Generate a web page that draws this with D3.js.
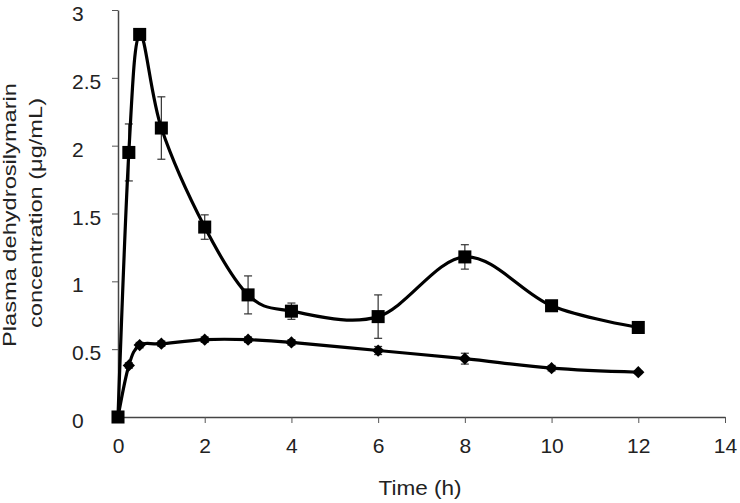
<!DOCTYPE html>
<html>
<head>
<meta charset="utf-8">
<script src="https://cdn.jsdelivr.net/npm/d3@7"></script>
<style>
  body { margin: 0; background: #fff; }
  text { font-family: "Liberation Sans", Arial, sans-serif; fill: #222; }
</style>
</head>
<body>
<svg id="chart" width="740" height="503"></svg>
<script>
// sampling times (h)
const times = [0, 0.25, 0.5, 1, 2, 3, 4, 6, 8, 10, 12];
// square series (formulation) mean and SD
const squareMean = [0, 1.95, 2.82, 2.13, 1.40, 0.90, 0.78, 0.74, 1.18, 0.82, 0.66];
const squareSD   = [0, 0.21, 0.02, 0.23, 0.09, 0.14, 0.06, 0.16, 0.09, 0.02, 0.02];
// diamond series mean and SD
const diamondMean = [0, 0.38, 0.53, 0.54, 0.57, 0.57, 0.55, 0.49, 0.43, 0.36, 0.33];
const diamondSD   = [0, 0.02, 0.02, 0.02, 0.02, 0.02, 0.02, 0.03, 0.04, 0.02, 0.01];

const xTicks = [0, 2, 4, 6, 8, 10, 12, 14];
const yTicks = [0, 0.5, 1, 1.5, 2, 2.5, 3];

const svg = d3.select("#chart");
const padLeft = 118, padRight = 725, padTop = 10, padBottom = 417;

const x = d3.scaleLinear().domain([0, 14]).range([padLeft, padRight]);
const y = d3.scaleLinear().domain([0, 3]).range([padBottom, padTop]);

// axes
const xAxis = svg.append("g")
    .attr("transform", "translate(0," + padBottom + ")")
    .call(d3.axisBottom(x).tickValues(xTicks).tickSize(6).tickSizeOuter(0).tickPadding(15).tickFormat(d3.format("d")));
const yAxis = svg.append("g")
    .attr("transform", "translate(" + padLeft + ",0)")
    .call(d3.axisLeft(y).tickValues(yTicks).tickSize(6).tickSizeOuter(0).tickFormat(d => d));

[xAxis, yAxis].forEach(function (a) {
    a.select(".domain").attr("stroke", "#444").attr("stroke-width", 1.5);
    a.selectAll(".tick line").attr("stroke", "#555").attr("stroke-width", 1);
    a.selectAll(".tick text").style("font-size", "21px").attr("fill", "#222");
});
xAxis.selectAll(".tick line").attr("y1", 0).attr("y2", 6);
yAxis.selectAll(".tick line").attr("x1", -6).attr("x2", 0);
// y labels are left aligned in the original
yAxis.selectAll(".tick text").attr("text-anchor", "start").attr("x", -46).attr("dy", "0.5em");

// axis titles
svg.append("text")
    .attr("x", 420).attr("y", 495)
    .attr("text-anchor", "middle")
    .style("font-size", "20px")
    .attr("textLength", 83)
    .attr("lengthAdjust", "spacingAndGlyphs")
    .text("Time (h)");

svg.append("text")
    .attr("transform", "translate(16,215) rotate(-90)")
    .attr("text-anchor", "middle")
    .style("font-size", "19px")
    .attr("textLength", 264)
    .attr("lengthAdjust", "spacingAndGlyphs")
    .text("Plasma dehydrosilymarin");
svg.append("text")
    .attr("transform", "translate(42,213) rotate(-90)")
    .attr("text-anchor", "middle")
    .style("font-size", "19px")
    .attr("textLength", 230)
    .attr("lengthAdjust", "spacingAndGlyphs")
    .text("concentration (\u03bcg/mL)");

function drawSeries(means, sds, symbolSize, rotate) {
    const pts = times.map((t, i) => ({ t: t, m: means[i], s: sds[i] }));
    const line = d3.line()
        .x(d => x(d.t))
        .y(d => y(d.m))
        .curve(d3.curveCardinal.tension(0));

    const g = svg.append("g");

    // error bars
    const eb = g.selectAll(".eb").data(pts.filter(d => d.s > 0)).enter().append("g");
    eb.append("line")
        .attr("x1", d => x(d.t)).attr("x2", d => x(d.t))
        .attr("y1", d => y(d.m + d.s)).attr("y2", d => y(d.m - d.s))
        .attr("stroke", "#333").attr("stroke-width", 1.2);
    eb.append("line")
        .attr("x1", d => x(d.t) - 4).attr("x2", d => x(d.t) + 4)
        .attr("y1", d => y(d.m + d.s)).attr("y2", d => y(d.m + d.s))
        .attr("stroke", "#333").attr("stroke-width", 1.2);
    eb.append("line")
        .attr("x1", d => x(d.t) - 4).attr("x2", d => x(d.t) + 4)
        .attr("y1", d => y(d.m - d.s)).attr("y2", d => y(d.m - d.s))
        .attr("stroke", "#333").attr("stroke-width", 1.2);

    g.append("path")
        .attr("d", line(pts))
        .attr("fill", "none")
        .attr("stroke", "#000")
        .attr("stroke-width", 3.2);

    g.selectAll(".mk").data(pts).enter().append("path")
        .attr("transform", d => "translate(" + x(d.t) + "," + y(d.m) + ") rotate(" + rotate + ")")
        .attr("d", d3.symbol().type(d3.symbolSquare).size(symbolSize))
        .attr("fill", "#000");
}

drawSeries(diamondMean, diamondSD, 75, 45);
drawSeries(squareMean, squareSD, 170, 0);
</script>
</body>
</html>
